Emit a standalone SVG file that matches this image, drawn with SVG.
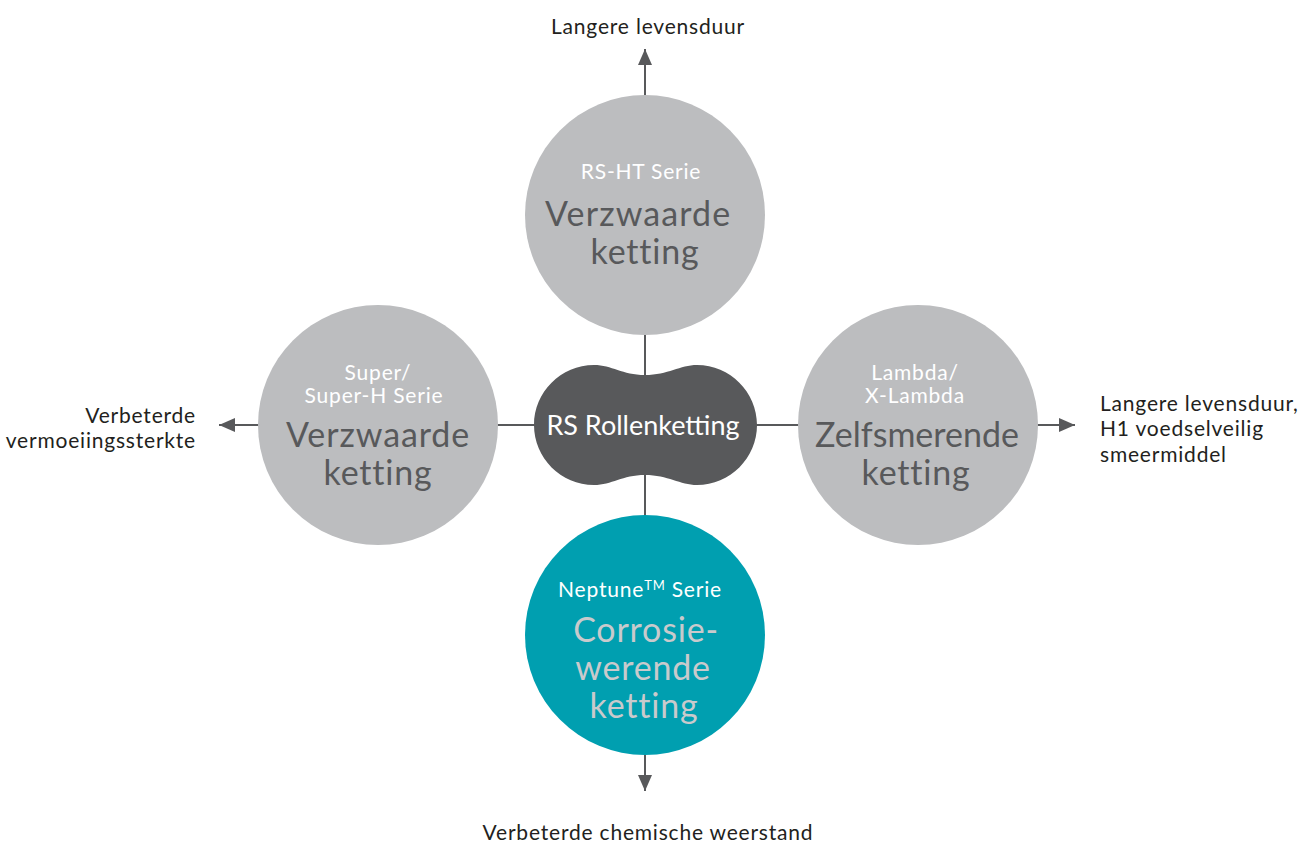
<svg xmlns="http://www.w3.org/2000/svg" width="1303" height="846" viewBox="0 0 1303 846">
<defs>
<style>
text{font-family:Lato,"Liberation Sans",sans-serif;}
.lbl{font-size:21px;letter-spacing:0.8px;fill:#231f20;}
.sm{font-size:21px;letter-spacing:0.8px;fill:#ffffff;text-anchor:middle;}
.big{font-size:34px;letter-spacing:0.8px;fill:#58595b;text-anchor:middle;}
.bigt{font-size:34px;letter-spacing:0.8px;fill:#c9cacc;text-anchor:middle;}
.gc{fill:#bcbdbf;}
.ln{stroke:#58595b;stroke-width:2;fill:none;}
</style>
<marker id="ah2" viewBox="0 0 16 14" refX="16" refY="7" markerWidth="16" markerHeight="14" markerUnits="userSpaceOnUse" orient="auto">
<path d="M0,0 L16,7 L0,14 Z" fill="#58595b"/>
</marker>
</defs>
<rect width="1303" height="846" fill="#ffffff"/>
<g id="connectors">
<line class="ln" x1="645" y1="425" x2="645" y2="49" marker-end="url(#ah2)"/>
<line class="ln" x1="645" y1="425" x2="645" y2="791" marker-end="url(#ah2)"/>
<line class="ln" x1="645" y1="425" x2="219" y2="425" marker-end="url(#ah2)"/>
<line class="ln" x1="645" y1="425" x2="1075" y2="425" marker-end="url(#ah2)"/>
</g>
<g id="node-top">
<circle class="gc" cx="645" cy="215" r="120"/>
<text class="sm" x="641" y="179">RS-HT Serie</text>
<text class="big" x="638" y="226" textLength="186">Verzwaarde</text>
<text class="big" x="645" y="264">ketting</text>
</g>
<g id="node-left">
<circle class="gc" cx="378" cy="425" r="120"/>
<text class="sm" x="378" y="380">Super/</text>
<text class="sm" x="374" y="403">Super-H Serie</text>
<text class="big" x="378" y="447" textLength="184">Verzwaarde</text>
<text class="big" x="378" y="485">ketting</text>
</g>
<g id="node-right">
<circle class="gc" cx="918" cy="425" r="120"/>
<text class="sm" x="915" y="380">Lambda/</text>
<text class="sm" x="915" y="403">X-Lambda</text>
<text class="big" x="917" y="447" style="letter-spacing:0" font-size="33">Zelfsmerende</text>
<text class="big" x="916" y="485">ketting</text>
</g>
<g id="node-bottom">
<circle cx="645" cy="635" r="120" fill="#009fb0"/>
<text class="sm" x="640" y="597">Neptune<tspan font-size="13" dy="-7">TM</tspan><tspan dy="7"> Serie</tspan></text>
<text class="bigt" x="646" y="642">Corrosie-</text>
<text class="bigt" x="643" y="680">werende</text>
<text class="bigt" x="644" y="718">ketting</text>
</g>
<g id="node-center">
<path d="M645 375 C622 375 612 365 594 365 C561 365 534 392 534 425 C534 458 561 485 594 485 C612 485 622 475 645 475 C668 475 680 485 697 485 C730 485 757 458 757 425 C757 392 730 365 697 365 C680 365 668 375 645 375 Z" fill="#58595b"/>
<text x="643" y="435" font-size="27" fill="#ffffff" text-anchor="middle">RS Rollenketting</text>
</g>
<g id="labels">
<text class="lbl" x="648" y="34" text-anchor="middle">Langere levensduur</text>
<text class="lbl" x="196" y="423" text-anchor="end">Verbeterde</text>
<text class="lbl" x="196" y="448" text-anchor="end">vermoeiingssterkte</text>
<text class="lbl" x="1100" y="411">Langere levensduur,</text>
<text class="lbl" x="1100" y="436">H1 voedselveilig</text>
<text class="lbl" x="1100" y="462">smeermiddel</text>
<text class="lbl" x="648" y="840" text-anchor="middle">Verbeterde chemische weerstand</text>
</g>
</svg>
